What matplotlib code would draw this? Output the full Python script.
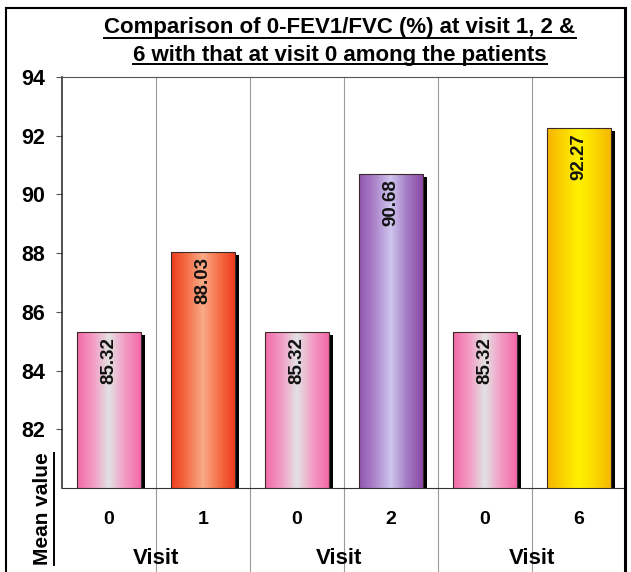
import numpy as np
import matplotlib
matplotlib.use("Agg")
import matplotlib.pyplot as plt
from matplotlib.colors import LinearSegmentedColormap
from matplotlib.patches import Rectangle
import matplotlib.transforms as mtransforms

# ---- data ----
categories = ["0", "1", "0", "2", "0", "6"]
values = [85.32, 88.03, 85.32, 90.68, 85.32, 92.27]
group_labels = ["Visit", "Visit", "Visit"]
yticks = [82, 84, 86, 88, 90, 92, 94]
title_lines = ["Comparison of 0-FEV1/FVC (%) at visit 1, 2 &",
               "6 with that at visit 0 among the patients"]
ylabel = "Mean value"

# gradient colours per bar (edge, mid, centre, mid, edge)
pink = ["#f26aa8", "#f39bc4", "#e2e2e2", "#f39bc4", "#f26aa8"]
red = ["#ee3b1e", "#f47048", "#f9aa86", "#f47048", "#ee3b1e"]
purple = ["#9255b0", "#ad86cc", "#cfc6ee", "#a57cc4", "#8a4aa6"]
yellow = ["#f6b400", "#fbd400", "#fff200", "#fcd800", "#f5b800"]
bar_colors = [pink, red, pink, purple, pink, yellow]

plt.rcParams['font.family'] = ['Liberation Sans', 'DejaVu Sans']

W, H = 631, 572
fig = plt.figure(figsize=(W / 100, H / 100), dpi=100)
ax = fig.add_axes([62 / W, 1 - 488 / H, 564 / W, 411 / H])

x = np.arange(len(values))
width = 0.68
ymin, ymax = 80, 94
ax.set_xlim(-0.5, len(values) - 0.5)
ax.set_ylim(ymin, ymax)

# shadows
dx = 4 / 94
dy = 3 / 29.36
for xi, v in zip(x, values):
    ax.add_patch(Rectangle((xi - width / 2 + dx, ymin), width, v - ymin - dy,
                           facecolor="black", edgecolor="none", zorder=2))

bars = ax.bar(x, [v - ymin for v in values], width=width, bottom=ymin,
              color="none", edgecolor="#3a2a2a", linewidth=0.8, zorder=4)

for b, cols in zip(bars, bar_colors):
    cmap = LinearSegmentedColormap.from_list("g", cols)
    grad = np.linspace(0, 1, 200)
    img = np.tile(grad, (60, 1))
    x0 = b.get_x()
    w = b.get_width()
    h = b.get_height()
    im = ax.imshow(img, cmap=cmap, extent=[x0, x0 + w, ymin, ymin + h],
                   aspect="auto", zorder=3, interpolation="bilinear")
    clip = Rectangle((x0, ymin), w, h, transform=ax.transData)
    im.set_clip_path(clip)

for xi, v in zip(x, values):
    ax.text(xi, v - 0.17, f"{v:.2f}", rotation=90, ha="center", va="top",
            fontsize=13.5, fontweight="bold", color="#111111", zorder=6)

# separators
for s in np.arange(0.5, len(values) - 0.5, 1):
    ax.plot([s, s], [ymax, ymin - (572 - 488) / 29.36], color="#9a9a9a",
            linewidth=0.8, clip_on=False, zorder=1)

ax.set_yticks(yticks)
ax.set_yticklabels([str(t) for t in yticks], fontsize=15.5, fontweight="bold")
ax.tick_params(axis="y", length=4, width=0.8, color="#555555", pad=8)
ax.set_xticks([])
ax.spines["right"].set_visible(False)
ax.spines["top"].set_color("#555555")
ax.spines["left"].set_color("#333333")
ax.spines["bottom"].set_color("#333333")
ax.spines["left"].set_linewidth(1.2)

trans = mtransforms.blended_transform_factory(ax.transData, fig.transFigure)
for xi, c in zip(x, categories):
    ax.text(xi, 1 - 520 / H, c, transform=trans, ha="center", va="center",
            fontsize=14, fontweight="bold")
offs = [0.0, -0.05, 0.0]
for gi, g in enumerate(group_labels):
    ax.text(2 * gi + 0.5 + offs[gi], 1 - 558 / H, g,
            transform=trans, ha="center", va="center",
            fontsize=16, fontweight="bold")

# title with underlines
t1 = fig.text(340 / W, 1 - 28 / H, title_lines[0], ha="center", va="center",
              fontsize=16, fontweight="bold")
t2 = fig.text(340 / W, 1 - 55 / H, title_lines[1], ha="center", va="center",
              fontsize=16, fontweight="bold")
yl = fig.text(43 / W, 1 - 509 / H, ylabel, rotation=90, ha="center",
              va="center", fontsize=15, fontweight="bold")

fig.canvas.draw()
r = fig.canvas.get_renderer()
inv = fig.transFigure.inverted()
for t in (t1, t2):
    bb = t.get_window_extent(r)
    (xa, ya), (xb, yb) = inv.transform([[bb.x0, bb.y0], [bb.x1, bb.y1]])
    fig.add_artist(plt.Line2D([xa, xb], [ya + 1 / H, ya + 1 / H],
                              color="black", linewidth=1.4,
                              transform=fig.transFigure))
bb = yl.get_window_extent(r)
(xa, ya), (xb, yb) = inv.transform([[bb.x0, bb.y0], [bb.x1, bb.y1]])
fig.add_artist(plt.Line2D([xb + 1 / W, xb + 1 / W], [ya, yb],
                          color="black", linewidth=1.4,
                          transform=fig.transFigure))

# outer frame
fig.add_artist(plt.Line2D([6 / W, 6 / W], [0, 1 - 8 / H], color="black",
                          linewidth=1.5, transform=fig.transFigure))
fig.add_artist(plt.Line2D([6 / W, 625 / W], [1 - 8 / H, 1 - 8 / H],
                          color="black", linewidth=1.5,
                          transform=fig.transFigure))
fig.add_artist(plt.Line2D([625 / W, 625 / W], [0, 1 - 8 / H], color="black",
                          linewidth=2.2, transform=fig.transFigure))

fig.savefig("out.png", dpi=100)
